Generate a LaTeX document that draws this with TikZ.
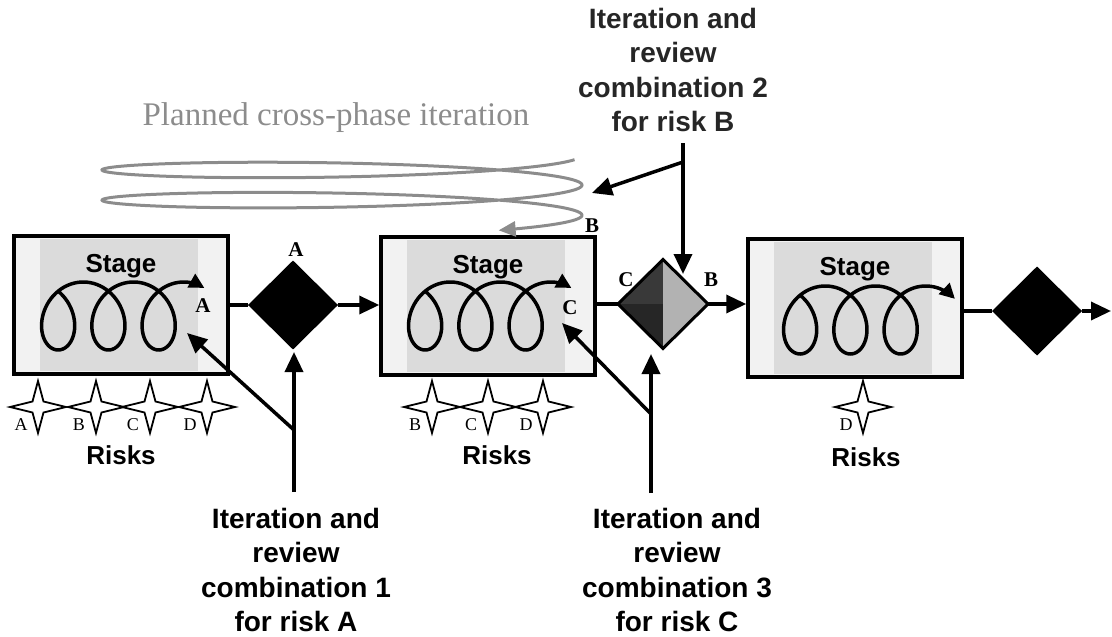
\documentclass[tikz,border=0pt]{standalone}
\usepackage{fontspec}
\setmainfont{Liberation Serif}
\setsansfont{Liberation Sans}
\usetikzlibrary{shapes.geometric,arrows.meta}
\tikzset{
stagebox/.style={draw, line width=3.5pt, fill=gray!10, minimum width=214pt,
    minimum height=138pt, inner sep=0pt},
gate/.style={diamond, draw, line width=3pt, fill=black, minimum width=87pt,
    minimum height=86pt, inner sep=0pt},
flow/.style={line width=3.5pt, -{Triangle[length=20pt,width=18pt]}},
curl/.style={line width=3.5pt, -{Triangle[length=15pt,width=15pt]}},
crossloop/.style={line width=3pt, black!45, -{Triangle[length=17pt,width=15pt]}},
stagelbl/.style={font=\sffamily\bfseries\fontsize{26}{30}\selectfont},
risklbl/.style={font=\sffamily\bfseries\fontsize{26}{30}\selectfont},
combo/.style={font=\sffamily\bfseries\fontsize{28}{34.5}\selectfont, align=center, inner sep=0pt},
letter/.style={font=\fontsize{18}{18}\selectfont, inner sep=0pt},
gateletter/.style={font=\bfseries\fontsize{21}{21}\selectfont, inner sep=0pt},
riskstar/.pic={\draw[line width=1.8pt, fill=white, line join=miter]
    (0,-26) -- (5.5,-5.5) -- (28,0) -- (5.5,5.5) -- (0,26) -- (-5.5,5.5)
    -- (-28,0) -- (-5.5,-5.5) -- cycle;}
}
% three curls inside a stage, shifted by #1,#2, stopping at angle #3
\newcommand{\stagecurl}[3]{
  \draw[curl] plot[domain=0.75:#3, samples=200, variable=\t]
    ({#1+33+8*\t+28*sin(\t r)},{#2+316-34*cos(\t r)});
}

\begin{document}
\begin{tikzpicture}[x=1pt, y=-1pt]
\useasboundingbox (0,0) rectangle (1112,637);

% stages
\node[stagebox] (s1) at (121,305) {};
\node[stagebox] (s2) at (488,306) {};
\node[stagebox] (s3) at (855,308) {};
\foreach \s in {s1,s2,s3}
  \fill[gray!28] ([xshift=28pt,yshift=-5pt]\s.north west) rectangle ([xshift=-32pt,yshift=5pt]\s.south east);
\foreach \s in {s1,s2,s3}
  \node[stagelbl] (\s lbl) at ([yshift=-32pt]\s.north) {Stage};
\stagecurl{0}{0}{19.45}
\stagecurl{367}{0}{19.45}
\stagecurl{742}{4}{19.75}
\node[gateletter] (s1a) at (203,306) {A};
\node[gateletter] (s2c) at (570,308) {C};

% gates
\node[gate] (d1) at (293,305) {};
\node[gate, fill=none] (d2) at (663,304) {};
\fill[gray!45!black] (d2.west) -- (d2.north) -- (d2.center) -- cycle;
\fill[black!85] (d2.west) -- (d2.center) -- (d2.south) -- cycle;
\fill[gray!60] (d2.north) -- (d2.east) -- (d2.south) -- cycle;
\draw[line width=3pt] (d2.north) -- (d2.east) -- (d2.south) -- (d2.west) -- cycle;
\node[gate] (d3) at (1037,311) {};
\node[gateletter] (d1a) at (296,250) {A};
\node[gateletter] (d2c) at (626,280) {C};
\node[gateletter] (d2b) at (711,280) {B};

% main flow
\coordinate (out) at (1111,311);
\draw[line width=3.5pt] (s1.east |- d1.west) -- (d1.west);
\draw[flow] (d1.east) -- (d1.east -| s2.west);
\draw[line width=3.5pt] (s2.east |- d2.west) -- (d2.west);
\draw[flow] (d2.east) -- (d2.east -| s3.west);
\draw[line width=3.5pt] (s3.east |- d3.west) -- (d3.west);
\draw[flow] (d3.east) -- (out);

% risks
\foreach \n/\x/\l in {rA/38/A, rB/96/B, rC/150/C, rD/207/D,
                      qB/432/B, qC/488/C, qD/543/D, pD/863/D}{
  \pic (\n) at (\x,407) {riskstar};
  \node[letter] (\n l) at (\x-17,425) {\l};
}
\node[risklbl] (k1) at (121,455) {Risks};
\node[risklbl] (k2) at (497,455) {Risks};
\node[risklbl] (k3) at (866,457) {Risks};

% planned cross-phase iteration
\node[font=\fontsize{33}{33}\selectfont, text=black!45] (cross) at (336,118) {Planned cross-phase iteration};
\draw[crossloop] plot[domain=0.25:13.43, samples=300, variable=\t]
  ({342+240*cos(\t r)},{154.9+14.5*sin(\t r)+4.8*\t});
\node[gateletter] (crossb) at (592,226) {B};

% iteration and review combinations
\coordinate (c1) at (294,492);
\coordinate (c1j) at (294,430);
\coordinate (c1t) at (294,352);
\coordinate (c1s) at (187,333);
\draw[flow] (c1) -- (c1t);
\draw[flow] (c1j) -- (c1s);
\node[combo] (c1lbl) at (296,570) {Iteration and\\review\\combination 1\\for risk A};

\coordinate (c2) at (683,143);
\coordinate (c2j) at (683,162);
\coordinate (c2t) at (683,274);
\coordinate (c2s) at (592,193);
\draw[flow] (c2) -- (c2t);
\draw[flow] (c2j) -- (c2s);
\node[combo, text=black!85] (c2lbl) at (673,70) {Iteration and\\review\\combination 2\\for risk B};

\coordinate (c3) at (651,493);
\coordinate (c3j) at (651,414);
\coordinate (c3t) at (651,354);
\coordinate (c3s) at (562,323);
\draw[flow] (c3) -- (c3t);
\draw[flow] (c3j) -- (c3s);
\node[combo] (c3lbl) at (677,570) {Iteration and\\review\\combination 3\\for risk C};
\end{tikzpicture}
\end{document}
